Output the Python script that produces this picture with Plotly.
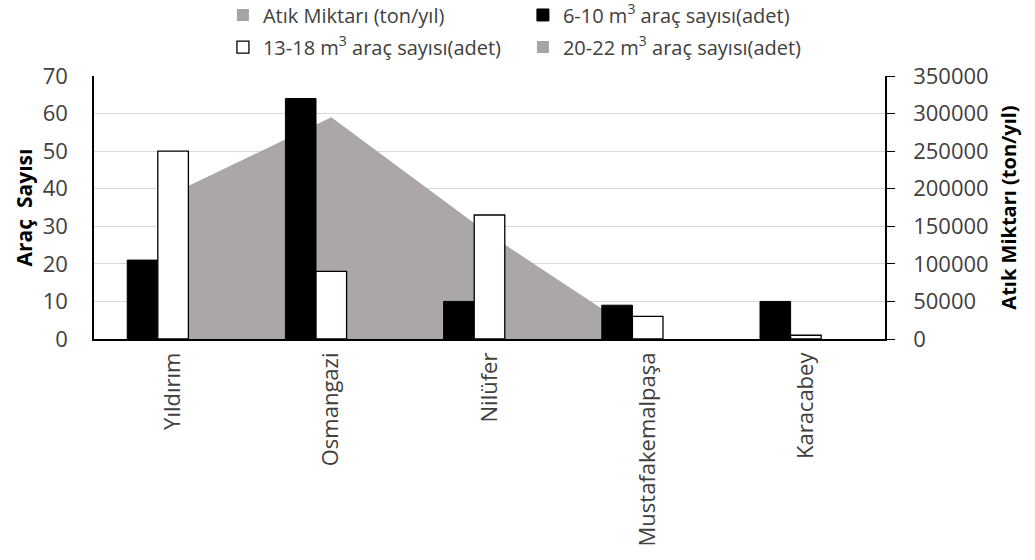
import plotly.graph_objects as go

# Districts and their values
districts = ["Yıldırım", "Osmangazi", "Nilüfer", "Mustafakemalpaşa", "Karacabey"]
waste_tons = [194000, 295000, 139000, 0, 0]             # Atık Miktarı (ton/yıl)
trucks_6_10 = [21, 64, 10, 9, 10]                       # 6-10 m³ araç sayısı
trucks_13_18 = [50, 18, 33, 6, 1]                       # 13-18 m³ araç sayısı
trucks_20_22 = [0, 0, 0, 0, 0]                          # 20-22 m³ araç sayısı

left_ticks = [0, 10, 20, 30, 40, 50, 60, 70]
right_ticks = [0, 50000, 100000, 150000, 200000, 250000, 300000, 350000]

FONT = "Open Sans"
TXT = "#404040"
GRAY = "#aaa7a6"
WASTE_NAME = "Atık Miktarı (ton/yıl)"

fig = go.Figure()

# Waste amount as a filled area on the right-hand axis (drawn underneath the bars)
fig.add_trace(go.Scatter(
    x=districts, y=waste_tons, name=WASTE_NAME,
    mode="lines", line=dict(width=0, color=GRAY), fill="tozeroy", fillcolor=GRAY,
    xaxis="x", yaxis="y", legendgroup="waste", showlegend=False,
))
# square legend key for the area series (no data of its own)
fig.add_trace(go.Bar(
    x=[None], y=[None], name=WASTE_NAME, marker=dict(color="#a5a5a5", line=dict(width=0)),
    xaxis="x", yaxis="y", legendgroup="waste", legend="legend", hoverinfo="skip",
))

fig.add_trace(go.Bar(
    x=districts, y=trucks_6_10, name="6-10 m<sup>3</sup> araç sayısı(adet)",
    marker=dict(color="#000000", line=dict(color="#000000", width=1)),
    xaxis="x", yaxis="y2", legend="legend",
))
fig.add_trace(go.Bar(
    x=districts, y=trucks_13_18, name="13-18 m<sup>3</sup> araç sayısı(adet)",
    marker=dict(color="#ffffff", line=dict(color="#000000", width=1.3)),
    xaxis="x", yaxis="y2", legend="legend2",
))
fig.add_trace(go.Bar(
    x=districts, y=trucks_20_22, name="20-22 m<sup>3</sup> araç sayısı(adet)",
    marker=dict(color="#a5a5a5", line=dict(width=0)),
    xaxis="x", yaxis="y2", legend="legend2",
))

legend_common = dict(
    orientation="h", xanchor="left", yanchor="middle",
    font=dict(family=FONT, size=20, color=TXT),
    entrywidth=255, entrywidthmode="pixels",
    itemwidth=30, bgcolor="rgba(0,0,0,0)", tracegroupgap=0,
)

fig.update_layout(
    width=1035, height=560, autosize=False,
    margin=dict(l=94, r=150, t=76, b=221, autoexpand=False),
    plot_bgcolor="#ffffff", paper_bgcolor="#ffffff",
    font=dict(family=FONT, size=20, color=TXT),
    barmode="group", bargap=0.42, bargroupgap=0,
    xaxis=dict(
        type="category", showline=True, linecolor="#000000", linewidth=1.5,
        ticks="", tickangle=-90, tickfont=dict(family=FONT, size=22, color=TXT),
        ticklabelstandoff=3, showgrid=False, zeroline=False,
    ),
    yaxis=dict(
        side="right", range=[0, 350000], tickvals=right_ticks,
        ticktext=[str(v) for v in right_ticks],
        showgrid=True, gridcolor="#d9d9d9", gridwidth=1,
        showline=True, linecolor="#000000", linewidth=1.5,
        ticks="outside", ticklen=8, tickcolor="#000000",
        tickfont=dict(family=FONT, size=22, color=TXT), ticklabelstandoff=14,
        zeroline=False,
        title=dict(text="<b>" + WASTE_NAME + "</b>",
                   font=dict(family=FONT, size=20, color="#000000"), standoff=14),
    ),
    yaxis2=dict(
        overlaying="y", side="left", range=[0, 70], tickvals=left_ticks,
        showgrid=False, showline=True, linecolor="#000000", linewidth=1.5,
        ticks="", tickfont=dict(family=FONT, size=22, color=TXT), ticklabelstandoff=20,
        zeroline=False,
        title=dict(text="<b>Araç  Sayısı</b>",
                   font=dict(family=FONT, size=21, color="#000000"), standoff=4),
    ),
    legend=dict(x=0.163, y=1.232, **legend_common),
    legend2=dict(x=0.163, y=1.110, **legend_common),
)

fig.write_html("out.html")
